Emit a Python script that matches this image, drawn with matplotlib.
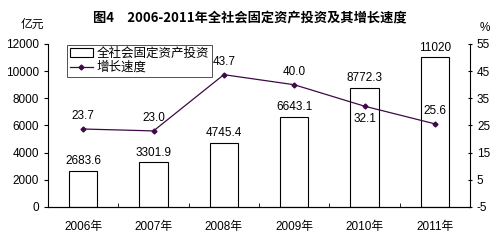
import matplotlib.pyplot as plt
import numpy as np

plt.rcParams['font.family'] = ['Liberation Sans', 'Noto Sans CJK SC']
plt.rcParams['axes.unicode_minus'] = False

years = ['2006年', '2007年', '2008年', '2009年', '2010年', '2011年']
invest = [2683.6, 3301.9, 4745.4, 6643.1, 8772.3, 11020]
invest_labels = ['2683.6', '3301.9', '4745.4', '6643.1', '8772.3', '11020']
growth = [23.7, 23.0, 43.7, 40.0, 32.1, 25.6]

line_color = '#3d0a45'

fig = plt.figure(figsize=(5, 2.47), dpi=100)
ax = fig.add_axes([0.096, 0.162, 0.844, 0.66])
x = np.arange(len(years))

bars = ax.bar(x, invest, width=0.4, color='white', edgecolor='black', linewidth=0.8,
              label='全社会固定资产投资', zorder=2)
for xi, v, t in zip(x, invest, invest_labels):
    ax.text(xi, v + 250, t, ha='center', va='bottom', fontsize=8.5)

ax.set_xlim(-0.5, len(years) - 0.5)
ax.set_ylim(0, 12000)
ax.set_yticks(range(0, 12001, 2000))
ax.set_xticks(x)
ax.set_xticklabels(years)
ax.set_xticks(np.arange(-0.5, len(years), 1), minor=True)
ax.tick_params(axis='x', which='major', length=0, labelsize=8.5, pad=10)
ax.tick_params(axis='x', which='minor', length=3, direction='in')
ax.tick_params(axis='y', labelsize=8.5, length=3)
ax.spines['top'].set_visible(False)
ax.spines['right'].set_visible(False)

ax2 = ax.twinx()
ln, = ax2.plot(x, growth, color=line_color, linewidth=0.9, marker='D', markersize=2.5,
               label='增长速度', zorder=3)
ax2.set_ylim(-5, 55)
ax2.set_yticks(range(-5, 56, 10))
ax2.tick_params(axis='y', labelsize=8.5, length=3, direction='inout')
ax2.spines['top'].set_visible(False)
ax2.spines['left'].set_visible(False)
for xi, v in zip(x, growth):
    if v == 32.1:
        ax2.text(xi, v - 2.5, f'{v:.1f}', ha='center', va='top', fontsize=8.5)
    else:
        ax2.text(xi, v + 2.5, f'{v:.1f}', ha='center', va='bottom', fontsize=8.5)

leg = ax.legend([bars, ln], ['全社会固定资产投资', '增长速度'], loc='upper left',
                bbox_to_anchor=(0.045, 0.995), fontsize=9, frameon=True, fancybox=False,
                edgecolor='black', borderpad=0.25, labelspacing=0.1, handlelength=1.8,
                handletextpad=0.3, borderaxespad=0)
leg.get_frame().set_linewidth(0.6)

fig.text(0.5, 0.925, '图4　2006-2011年全社会固定资产投资及其增长速度', ha='center', va='center',
         fontsize=9.5, fontweight='bold', family=['Noto Sans CJK SC'])
fig.text(0.065, 0.9, '亿元', ha='center', va='center', fontsize=8.5)
fig.text(0.97, 0.885, '%', ha='center', va='center', fontsize=8.5)

fig.savefig('out.png', dpi=100)
